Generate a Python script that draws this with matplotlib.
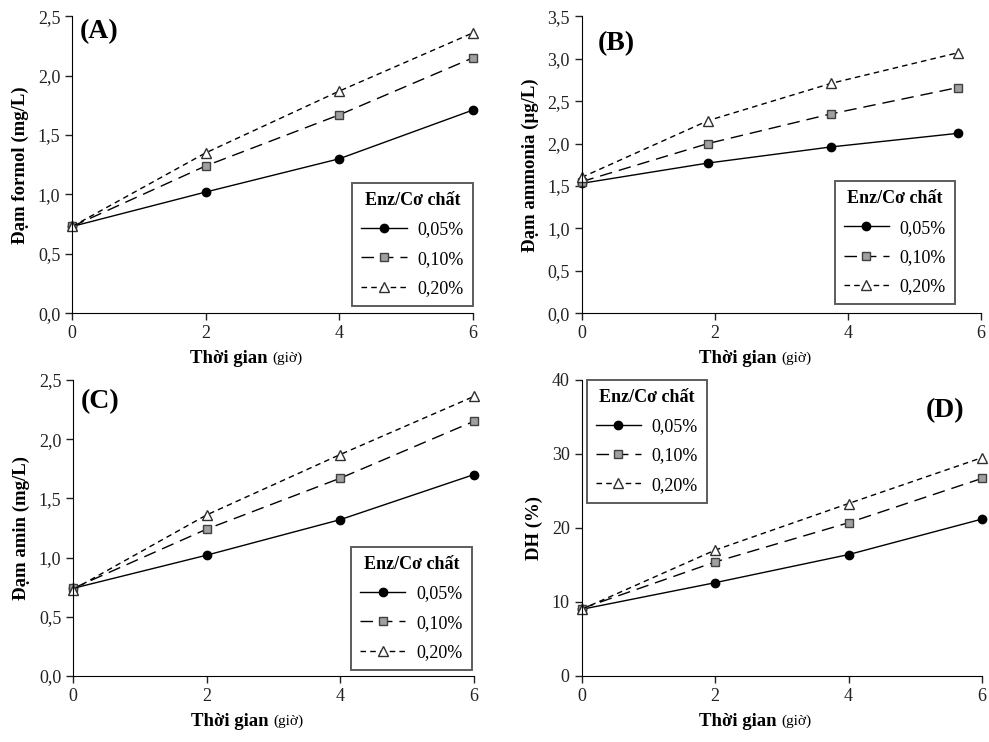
import matplotlib.pyplot as plt
from matplotlib.ticker import FuncFormatter

plt.rcParams['font.family'] = ['Liberation Serif', 'DejaVu Serif']

# thời gian (giờ)
t = [0, 2, 4, 6]
t_b = [0, 1.9, 3.75, 5.65]

labels = ['0,05%', '0,10%', '0,20%']

# (A) đạm formol
a_005 = [0.73, 1.02, 1.30, 1.71]
a_010 = [0.73, 1.24, 1.67, 2.15]
a_020 = [0.73, 1.35, 1.87, 2.36]

# (B) đạm ammonia
b_005 = [1.53, 1.77, 1.96, 2.12]
b_010 = [1.55, 2.00, 2.35, 2.66]
b_020 = [1.60, 2.27, 2.71, 3.07]

# (C) đạm amin
c_005 = [0.74, 1.02, 1.32, 1.70]
c_010 = [0.74, 1.24, 1.67, 2.15]
c_020 = [0.73, 1.36, 1.87, 2.36]

# (D) DH
d_005 = [9.0, 12.6, 16.4, 21.2]
d_010 = [9.1, 15.4, 20.7, 26.7]
d_020 = [9.0, 17.0, 23.3, 29.5]

fig = plt.figure(figsize=(9.89, 7.42), dpi=100)

axA = fig.add_axes([0.073, 0.578, 0.405, 0.400])
axB = fig.add_axes([0.588, 0.578, 0.404, 0.400])
axC = fig.add_axes([0.074, 0.089, 0.405, 0.399])
axD = fig.add_axes([0.588, 0.089, 0.405, 0.399])

comma1 = FuncFormatter(lambda v, p: ('%.1f' % v).replace('.', ','))
comma0 = FuncFormatter(lambda v, p: '%d' % v)


def draw(ax, x, s1, s2, s3, ymax, ystep, ylabel, tag, tagpos, legloc, legbox, fmt):
    ax.plot(x, s1, '-', color='black', lw=1.0, marker='o', ms=6,
            mfc='black', mec='black', label=labels[0], clip_on=False)
    ax.plot(x, s2, color='black', lw=1.0, dashes=(9, 5), marker='s', ms=6,
            mfc='#a0a0a0', mec='#404040', label=labels[1], clip_on=False)
    ax.plot(x, s3, color='black', lw=1.0, dashes=(4, 3), marker='^', ms=7,
            mfc='white', mec='#303030', label=labels[2], clip_on=False)
    ax.set_xlim(0, 6)
    ax.set_ylim(0, ymax)
    ax.set_xticks([0, 2, 4, 6])
    ax.set_yticks([i * ystep for i in range(int(round(ymax / ystep)) + 1)])
    ax.yaxis.set_major_formatter(fmt)
    ax.spines['top'].set_visible(False)
    ax.spines['right'].set_visible(False)
    ax.tick_params(direction='out', length=5, width=1, labelsize=13, colors='#222222')
    # nhãn trục x: "(giờ)" chữ nhỏ, không đậm
    ax.text(0.5, -0.125, 'Thời gian ', transform=ax.transAxes, ha='right',
            va='top', fontsize=13.5, fontweight='bold')
    ax.text(0.5, -0.13, '(giờ)', transform=ax.transAxes, ha='left',
            va='top', fontsize=11)
    ax.set_ylabel(ylabel, fontsize=13.5, fontweight='bold', labelpad=6)
    ax.text(tagpos[0], tagpos[1], tag, transform=ax.transAxes,
            fontsize=20, fontweight='bold', va='top', ha='left')
    leg = ax.legend(loc=legloc, bbox_to_anchor=legbox, borderaxespad=0,
                    title='Enz/Cơ chất', fontsize=13,
                    title_fontproperties={'weight': 'bold', 'size': 13},
                    frameon=True, fancybox=False, edgecolor='#333333',
                    handlelength=2.5, handletextpad=0.6, borderpad=0.5,
                    labelspacing=0.68)
    leg.get_frame().set_linewidth(1.4)


draw(axA, t, a_005, a_010, a_020, 2.5, 0.5, 'Đạm formol (mg/L)', '(A)',
     (0.02, 0.99), 'lower right', (1.0, 0.024), comma1)
draw(axB, t_b, b_005, b_010, b_020, 3.5, 0.5, 'Đạm ammonia (µg/L)', '(B)',
     (0.04, 0.95), 'lower right', (0.935, 0.03), comma1)
draw(axC, t, c_005, c_010, c_020, 2.5, 0.5, 'Đạm amin (mg/L)', '(C)',
     (0.02, 0.97), 'lower right', (0.995, 0.02), comma1)
draw(axD, t, d_005, d_010, d_020, 40, 10, 'DH (%)', '(D)',
     (0.86, 0.94), 'upper left', (0.0125, 1.0), comma0)

fig.savefig('out.png', dpi=100)
